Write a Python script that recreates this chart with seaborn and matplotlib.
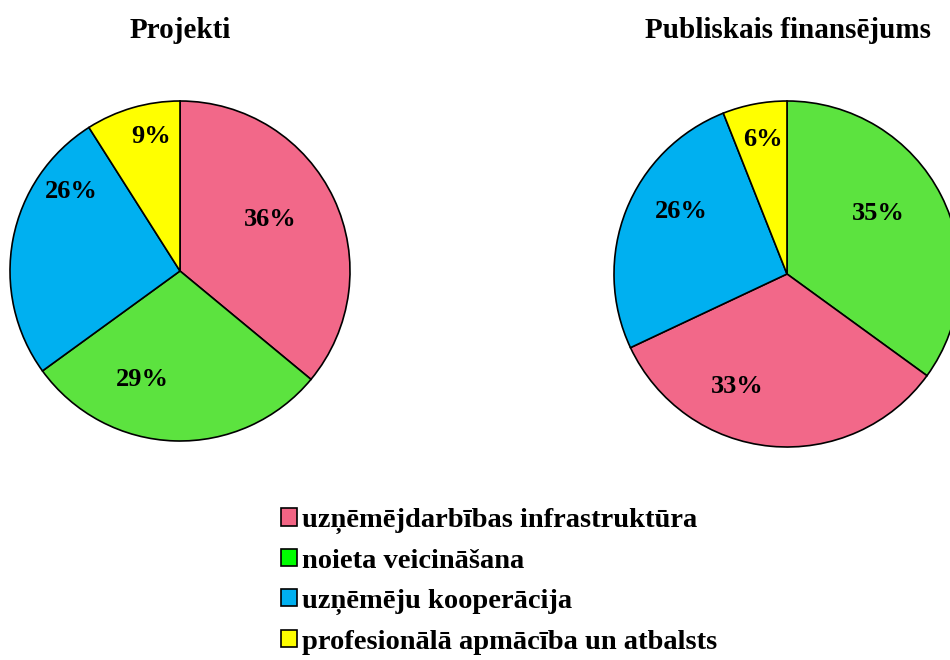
import matplotlib
matplotlib.use("Agg")
import matplotlib.pyplot as plt
from matplotlib.patches import Patch
import seaborn as sns

# data
categories = ["uzņēmējdarbības infrastruktūra", "noieta veicināšana",
              "uzņēmēju kooperācija", "profesionālā apmācība un atbalsts"]
projekti = [36, 29, 26, 9]
finansejums_labels = ["noieta veicināšana", "uzņēmējdarbības infrastruktūra",
                      "uzņēmēju kooperācija", "profesionālā apmācība un atbalsts"]
finansejums = [35, 33, 26, 6]
titles = ["Projekti", "Publiskais finansējums"]

sns.set_style("white")
plt.rcParams["font.family"] = ["Liberation Serif", "DejaVu Serif"]
plt.rcParams["text.color"] = "black"

pie_colors = {
    "uzņēmējdarbības infrastruktūra": "#F26889",
    "noieta veicināšana": "#5CE33F",
    "uzņēmēju kooperācija": "#00B0F0",
    "profesionālā apmācība un atbalsts": "#FFFF00",
}
legend_colors = {
    "uzņēmējdarbības infrastruktūra": "#F26484",
    "noieta veicināšana": "#00FF00",
    "uzņēmēju kooperācija": "#00B0F0",
    "profesionālā apmācība un atbalsts": "#FFFF00",
}

# where the percent labels sit, in pie-radius units (as in the original)
label_xy_left = [(0.53, 0.30), (-0.22, -0.64), (-0.64, 0.47), (-0.17, 0.79)]
label_xy_right = [(0.53, 0.35), (-0.29, -0.65), (-0.61, 0.36), (-0.14, 0.78)]

W, H = 950, 660
fig = plt.figure(figsize=(9.5, 6.6), dpi=100)


def add_pie(cx, cy, r, values, labels, title, tx, label_xy):
    half = r * 1.25
    ax = fig.add_axes([(cx - half) / W, (H - cy - half) / H, 2 * half / W, 2 * half / H])
    wedges, _, autotexts = ax.pie(
        values, colors=[pie_colors[l] for l in labels], startangle=90,
        counterclock=False, autopct="%d%%",
        wedgeprops=dict(edgecolor="black", linewidth=1.2),
        textprops=dict(fontsize=19, fontweight="bold", color="black"))
    for t, xy in zip(autotexts, label_xy):
        t.set_position(xy)
    ax.set_xlim(-1.25, 1.25)
    ax.set_ylim(-1.25, 1.25)
    ax.set_aspect("equal")
    ax.axis("off")
    fig.text(tx / W, 1 - 30 / H, title, ha="center", va="center",
             fontsize=21, fontweight="bold")


add_pie(180, 271, 170, projekti, categories, titles[0], 180, label_xy_left)
add_pie(787, 274, 173, finansejums, finansejums_labels, titles[1], 788, label_xy_right)

handles = [Patch(facecolor=legend_colors[c], edgecolor="black", linewidth=1.2) for c in categories]
leg = fig.legend(handles, categories, loc="upper left",
                 bbox_to_anchor=(281 / W, 1 - 508 / H), frameon=False,
                 handlelength=0.55, handleheight=0.55, handletextpad=0.2,
                 labelspacing=0.52, borderpad=0, borderaxespad=0,
                 prop=dict(size=20.5, weight="bold"))

fig.savefig("out.png", dpi=100)
